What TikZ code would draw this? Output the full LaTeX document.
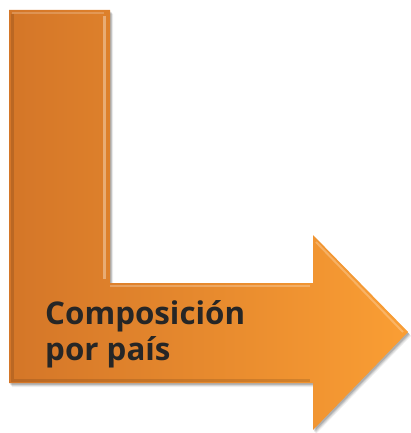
\documentclass[tikz,border=0pt]{standalone}
\usepackage{fontspec}
\setmainfont{Open Sans}
\usetikzlibrary{shadows,fadings}
\definecolor{orL}{RGB}{212,118,40}
\definecolor{orR}{RGB}{250,158,52}
\definecolor{txt}{RGB}{38,38,38}
\tikzset{
  arrowbody/.style={left color=orL, right color=orR, shading angle=90},
  label/.style={font=\bfseries\fontsize{31.3}{36}\selectfont, text=txt, align=left, inner sep=0pt}
}
\begin{document}
\begin{tikzpicture}[x=1pt,y=-1pt]
\useasboundingbox (0,0) rectangle (410,433);
% shadow
\foreach \o/\op in {5/0.06,4/0.08,3/0.1,2/0.12}{
  \fill[black,opacity=\op,shift={(\o*0.6,\o*0.8)}]
    (9,10) -- (110,10) -- (110,283) -- (313,283) -- (313,235) -- (408,332) -- (313,430) -- (313,383) -- (9,383) -- cycle;
}
% body
\path[arrowbody]
  (9,10) -- (110,10) -- (110,283) -- (313,283) -- (313,235) -- (408,332) -- (313,430) -- (313,383) -- (9,383) -- cycle;
% bevel highlights
\draw[white,opacity=0.35,line width=3pt] (104,16) -- (104,279);
\draw[white,opacity=0.2,line width=2pt] (12,13) -- (104,13);
\draw[black,opacity=0.12,line width=3pt] (12,14) -- (12,380) -- (310,380);
\draw[white,opacity=0.25,line width=2pt] (110,286) -- (310,286);
\draw[white,opacity=0.25,line width=2pt] (316,242) -- (403,332);
\node[label, anchor=base west] (t) at (45,360) {Composición\\por país};
\end{tikzpicture}
\end{document}
